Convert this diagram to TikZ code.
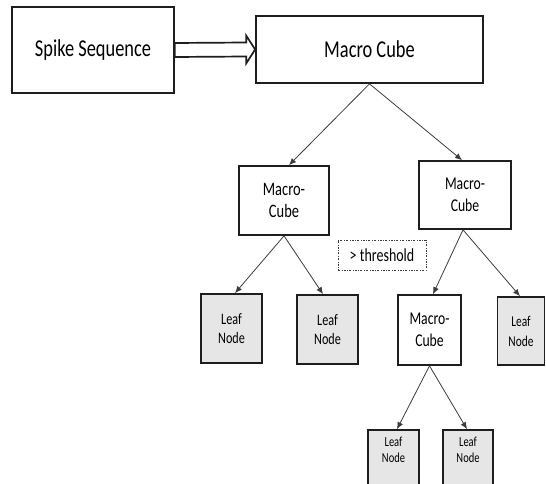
\documentclass[tikz,border=0pt]{standalone}
\usepackage{fontspec}
\setmainfont{Carlito}[FakeStretch=0.76]
\usetikzlibrary{arrows.meta,calc}
\definecolor{boxline}{HTML}{1E1E1E}
\definecolor{linkgray}{HTML}{3C3C3C}
\definecolor{leaffill}{HTML}{E6E6E6}
\begin{document}
\begin{tikzpicture}[x=1pt,y=-1pt,
  box/.style={draw=boxline, line width=1.7pt, fill=white, inner sep=0pt, align=center},
  leafbox/.style={box, fill=leaffill},
  link/.style={draw=linkgray, line width=0.8pt, -{Latex[length=7pt,width=6pt]}},
  hollow/.style={draw=boxline, line width=1.7pt, fill=white, line join=miter},
  thresh/.style={draw=linkgray, line width=0.6pt, dash pattern=on 2pt off 1.5pt on 0.6pt off 1.5pt, inner sep=0pt}
]
\useasboundingbox (0,0) rectangle (546,484);
\clip (0,0) rectangle (546,484);

% top row
\node[box, minimum width=162pt, minimum height=86pt,
      font=\fontsize{24.2}{28}\selectfont] (spike) at (93,50) {Spike Sequence};
\node[box, minimum width=227pt, minimum height=67pt,
      font=\fontsize{24.2}{28}\selectfont] (macro) at (369.5,49.5) {Macro Cube};

% hollow arrow between the two top boxes
\draw[hollow] ($(spike.east)+(0,-7)$) -- ($(macro.west)+(-9,-7)$)
  -- ($(macro.west)+(-9,-14)$) -- (macro.west) -- ($(macro.west)+(-9,14)$)
  -- ($(macro.west)+(-9,7)$) -- ($(spike.east)+(0,7)$) -- cycle;

% second level
\node[box, minimum width=90pt, minimum height=69pt,
      font=\fontsize{19}{21.5}\selectfont] (mcL) at (284,200.5) {Macro-\\Cube};
\node[box, minimum width=92pt, minimum height=68pt,
      font=\fontsize{18}{21.5}\selectfont] (mcR) at (465,195) {Macro-\\Cube};
\node[thresh, minimum width=88pt, minimum height=30pt,
      font=\fontsize{18.4}{20}\selectfont] (thr) at (382,255) {> threshold};

% third level
\node[leafbox, minimum width=61pt, minimum height=69pt,
      font=\fontsize{16}{19}\selectfont] (leafA) at (231.5,328.5) {Leaf\\Node};
\node[leafbox, minimum width=61pt, minimum height=69pt,
      font=\fontsize{16}{19}\selectfont] (leafB) at (327.5,329.5) {Leaf\\Node};
\node[box, minimum width=63pt, minimum height=70pt,
      font=\fontsize{18}{21.5}\selectfont] (mcLow) at (429.5,330) {Macro-\\Cube};
\node[leafbox, minimum width=47pt, minimum height=68pt,
      font=\fontsize{15}{20}\selectfont] (leafR) at (521,331) {Leaf\\Node};

% bottom level (boxes run past the lower edge)
\node[leafbox, minimum width=51pt, minimum height=70pt] (leafC) at (393.5,465) {};
\node[leafbox, minimum width=50pt, minimum height=70pt] (leafD) at (468,465) {};
\node[align=center, inner sep=0pt, font=\fontsize{13.8}{15.5}\selectfont] (leafCt) at (393.5,450) {Leaf\\Node};
\node[align=center, inner sep=0pt, font=\fontsize{13.8}{15.5}\selectfont] (leafDt) at (468,450) {Leaf\\Node};

% tree connectors
\draw[link] (macro.south) -- ($(mcL.north)+(5,0)$);
\draw[link] (macro.south) -- ($(mcR.north)+(-3,0)$);
\draw[link] (mcL.south) -- ($(leafA.north)+(3.5,0)$);
\draw[link] (mcL.south) -- ($(leafB.north)+(-4.5,0)$);
\draw[link] ($(mcR.south)+(-2,0)$) -- ($(mcLow.north)+(3.5,0)$);
\draw[link] ($(mcR.south)+(-2,0)$) -- ($(leafR.north)+(-1,0)$);
\draw[link] (mcLow.south) -- ($(leafC.north)+(3.5,0)$);
\draw[link] (mcLow.south) -- ($(leafD.north)+(-1,0)$);
\end{tikzpicture}
\end{document}
